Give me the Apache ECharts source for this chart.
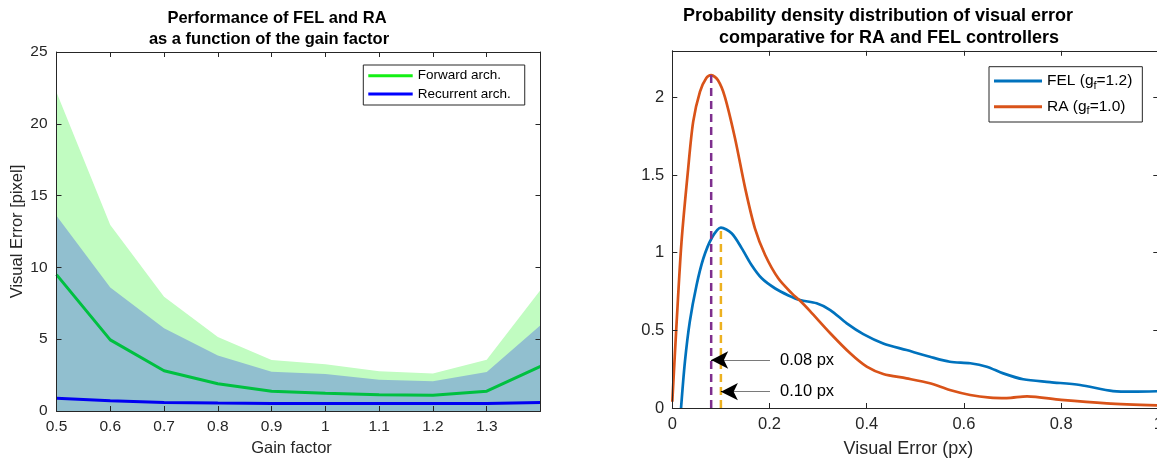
<!DOCTYPE html>
<html>
<head>
<meta charset="utf-8">
<script src="https://cdn.jsdelivr.net/npm/echarts@6/dist/echarts.min.js"></script>
<style>
  html, body { margin: 0; padding: 0; background: #fff; }
  #chart { width: 1157px; height: 461px; }
</style>
</head>
<body>
<div id="chart"></div>
<script>
// ---- Left panel: visual error against gain factor ----
const gainFactor     = [0.5, 0.6, 0.7, 0.8, 0.9, 1.0, 1.1, 1.2, 1.3, 1.4];
const forwardUpper   = [22.2, 12.95, 7.95, 5.15, 3.56, 3.25, 2.76, 2.62, 3.57, 8.43];
const recurrentUpper = [13.6, 8.6, 5.76, 3.87, 2.73, 2.58, 2.18, 2.07, 2.72, 5.97];
const forwardMean    = [9.5, 4.95, 2.8, 1.9, 1.37, 1.23, 1.14, 1.1, 1.38, 3.1];
const recurrentMean  = [0.88, 0.72, 0.59, 0.55, 0.53, 0.52, 0.52, 0.52, 0.53, 0.6];
const gainTickLabels  = [0.5, 0.6, 0.7, 0.8, 0.9, 1, 1.1, 1.2, 1.3];
const errorTickLabels = [0, 5, 10, 15, 20, 25];

// ---- Right panel: probability density of the visual error ----
const raGain = '1.0';
const felGain = '1.2';
const raX  = [0, 0.009, 0.019, 0.032, 0.043, 0.057, 0.07, 0.08, 0.094, 0.108, 0.129, 0.15, 0.17, 0.191,
              0.218, 0.246, 0.263, 0.283, 0.325, 0.366, 0.4, 0.434, 0.482, 0.53, 0.571, 0.613, 0.654,
              0.688, 0.73, 0.8, 0.894, 1.0];
const raY  = [0.04, 0.556, 1.071, 1.52, 1.844, 2.037, 2.125, 2.144, 2.11, 2.005, 1.737, 1.414, 1.157, 0.985,
              0.835, 0.738, 0.69, 0.625, 0.481, 0.352, 0.266, 0.219, 0.191, 0.159, 0.116, 0.084, 0.067,
              0.064, 0.075, 0.052, 0.03, 0.017];
const felX = [0.018, 0.026, 0.036, 0.05, 0.064, 0.081, 0.1, 0.122, 0.143, 0.163, 0.184, 0.211, 0.239, 0.263,
              0.297, 0.325, 0.359, 0.393, 0.434, 0.482, 0.53, 0.571, 0.613, 0.647, 0.681, 0.722, 0.777,
              0.839, 0.907, 0.948, 1.0];
const felY = [0, 0.298, 0.556, 0.792, 0.964, 1.093, 1.161, 1.125, 1.028, 0.921, 0.835, 0.771, 0.725, 0.695,
              0.674, 0.631, 0.545, 0.476, 0.416, 0.373, 0.33, 0.298, 0.288, 0.266, 0.223, 0.185, 0.167,
              0.148, 0.109, 0.105, 0.108];
const densityTickLabels = [0, 0.5, 1, 1.5, 2];
const errorPxTickLabels = [0, 0.2, 0.4, 0.6, 0.8, 1];

const FONT = '"Liberation Sans", Arial, Helvetica, sans-serif';
const AX = '#262626';

const zip = (xs, ys) => xs.map((x, i) => [x, ys[i]]);
const has = (list, v) => list.some(t => Math.abs(t - v) < 1e-6);
const fmt = v => String(+v.toFixed(2));

// mode of each density curve
function peak(xs, ys) {
  let k = 0;
  ys.forEach((y, i) => { if (y > ys[k]) k = i; });
  return { x: xs[k], y: ys[k] };
}
const raPeak = peak(raX, raY);
const felPeak = peak(felX, felY);

function axis(o) {
  return Object.assign({
    type: 'value',
    z: 10,
    axisLine: { show: true, onZero: false, lineStyle: { color: AX, width: 1 } },
    axisTick: { show: true, inside: true, length: 5, lineStyle: { color: AX, width: 1 } },
    splitLine: { show: false },
    axisLabel: { show: false }
  }, o);
}
function labels(list, size, margin) {
  return {
    show: true, color: AX, fontFamily: FONT, fontSize: size, margin: margin,
    showMinLabel: true, showMaxLabel: true, hideOverlap: false,
    formatter: v => has(list, v) ? fmt(v) : ''
  };
}

const chart = echarts.init(document.getElementById('chart'), null, { renderer: 'canvas' });

// arrow pointing at a dashed marker, with its value as text
function arrow(tipX, y, text) {
  const tailX = 0.201;
  return [
    [
      { coord: [tailX, y], symbol: 'none', lineStyle: { color: '#7a7a7a', width: 1, type: 'solid' },
        label: { show: true, position: 'start', distance: 10, formatter: text,
                 color: '#000', fontFamily: FONT, fontSize: 16.5 } },
      { coord: [tipX, y], symbol: 'none' }
    ],
    [
      { coord: [tipX + 0.02, y], symbol: 'none', lineStyle: { color: '#000', width: 1, type: 'solid' },
        label: { show: false } },
      { coord: [tipX, y], symbol: 'arrow', symbolSize: [13, 17] }
    ]
  ];
}

const option = {
  animation: false,
  backgroundColor: '#fff',
  textStyle: { fontFamily: FONT },
  grid: [
    { left: 56.5, top: 52, width: 484, height: 359, outerBoundsMode: 'none', containLabel: false },
    { left: 672.3, top: 50.8, width: 486, height: 357.2, outerBoundsMode: 'none', containLabel: false }
  ],
  xAxis: [
    axis({ gridIndex: 0, min: 0.5, max: 1.4, interval: 0.1, position: 'bottom',
           axisLabel: labels(gainTickLabels, 15.5, 8),
           name: 'Gain factor', nameLocation: 'middle', nameGap: 27,
           nameTextStyle: { color: AX, fontFamily: FONT, fontSize: 16.5, padding: [0, 14, 0, 0] } }),
    axis({ gridIndex: 0, min: 0.5, max: 1.4, interval: 0.1, position: 'top' }),
    axis({ gridIndex: 1, min: 0, max: 1, interval: 0.2, position: 'bottom',
           axisLabel: labels(errorPxTickLabels, 16.5, 8),
           name: 'Visual Error (px)', nameLocation: 'middle', nameGap: 32,
           nameTextStyle: { color: AX, fontFamily: FONT, fontSize: 18, padding: [0, 14, 0, 0] } }),
    axis({ gridIndex: 1, min: 0, max: 1, interval: 0.2, position: 'top' })
  ],
  yAxis: [
    axis({ gridIndex: 0, min: 0, max: 25, interval: 5, position: 'left',
           axisLabel: labels(errorTickLabels, 15.5, 9),
           name: 'Visual Error [pixel]', nameLocation: 'middle', nameGap: 30,
           nameTextStyle: { color: AX, fontFamily: FONT, fontSize: 16.5 } }),
    axis({ gridIndex: 0, min: 0, max: 25, interval: 5, position: 'right' }),
    axis({ gridIndex: 1, min: 0, max: 2.3, interval: 0.5, position: 'left',
           axisLabel: labels(densityTickLabels, 16.5, 8) }),
    axis({ gridIndex: 1, min: 0, max: 2.3, interval: 0.5, position: 'right' })
  ],
  legend: [
    {
      data: [
        { name: 'Forward arch.', itemStyle: { color: '#14f014' } },
        { name: 'Recurrent arch.', itemStyle: { color: '#0000ff' } }
      ],
      icon: 'rect',
      orient: 'vertical', left: 363.3, top: 65,
      padding: [3.7, 14, 4, 5], itemWidth: 44.4, itemHeight: 3, itemGap: 4.3,
      borderColor: '#262626', borderWidth: 1, backgroundColor: '#fff',
      selectedMode: false,
      textStyle: { color: '#000', fontFamily: FONT, fontSize: 13.5, lineHeight: 14 }
    },
    {
      data: [
        { name: 'FEL', itemStyle: { color: '#0072BD' } },
        { name: 'RA', itemStyle: { color: '#D95319' } }
      ],
      icon: 'rect',
      orient: 'vertical', left: 989, top: 66.7,
      padding: [4.3, 10, 5.3, 5], itemWidth: 48, itemHeight: 3, itemGap: 5.7,
      borderColor: '#262626', borderWidth: 1, backgroundColor: '#fff',
      selectedMode: false,
      formatter: name => {
        const g = name === 'FEL' ? felGain : raGain;
        return '{n|' + name + ' (g}{s|f}{n|=' + g + ')}';
      },
      textStyle: {
        color: '#000', fontFamily: FONT, fontSize: 15.5, lineHeight: 20,
        rich: {
          n: { fontSize: 15.5, lineHeight: 20, fontFamily: FONT, color: '#000' },
          s: { fontSize: 11, lineHeight: 9, verticalAlign: 'bottom', fontFamily: FONT, color: '#000' }
        }
      }
    }
  ],
  graphic: [
    { type: 'text', x: 277, y: 18, silent: true,
      style: { text: 'Performance of FEL and RA', font: 'bold 16.5px ' + FONT, fill: '#000',
               align: 'center', verticalAlign: 'middle', textAlign: 'center', textVerticalAlign: 'middle' } },
    { type: 'text', x: 269, y: 39.5, silent: true,
      style: { text: 'as a function of the gain factor', font: 'bold 16.5px ' + FONT, fill: '#000',
               align: 'center', verticalAlign: 'middle', textAlign: 'center', textVerticalAlign: 'middle' } },
    { type: 'text', x: 878, y: 16, silent: true,
      style: { text: 'Probability density distribution of visual error', font: 'bold 18px ' + FONT, fill: '#000',
               align: 'center', verticalAlign: 'middle', textAlign: 'center', textVerticalAlign: 'middle' } },
    { type: 'text', x: 889, y: 38, silent: true,
      style: { text: 'comparative for RA and FEL controllers', font: 'bold 18px ' + FONT, fill: '#000',
               align: 'center', verticalAlign: 'middle', textAlign: 'center', textVerticalAlign: 'middle' } }
  ],
  series: [
    // spread bands
    { type: 'line', xAxisIndex: 0, yAxisIndex: 0, data: zip(gainFactor, forwardUpper),
      symbol: 'none', silent: true, z: 1, lineStyle: { width: 0 },
      areaStyle: { color: '#c1fcc1', opacity: 1 } },
    { type: 'line', xAxisIndex: 0, yAxisIndex: 0, data: zip(gainFactor, recurrentUpper),
      symbol: 'none', silent: true, z: 1, lineStyle: { width: 0 },
      areaStyle: { color: '#91bfcf', opacity: 1 } },
    // mean curves
    { name: 'Forward arch.', type: 'line', xAxisIndex: 0, yAxisIndex: 0,
      data: zip(gainFactor, forwardMean), symbol: 'none', z: 3,
      itemStyle: { color: '#00c040' }, lineStyle: { color: '#00c040', width: 3 } },
    { name: 'Recurrent arch.', type: 'line', xAxisIndex: 0, yAxisIndex: 0,
      data: zip(gainFactor, recurrentMean), symbol: 'none', z: 3,
      itemStyle: { color: '#0000f2' }, lineStyle: { color: '#0000f2', width: 3 } },

    // density curves
    { name: 'FEL', type: 'line', xAxisIndex: 2, yAxisIndex: 2, data: zip(felX, felY),
      symbol: 'none', smooth: 0.3, z: 3,
      itemStyle: { color: '#0072BD' }, lineStyle: { color: '#0072BD', width: 2.7 } },
    { name: 'RA', type: 'line', xAxisIndex: 2, yAxisIndex: 2, data: zip(raX, raY),
      symbol: 'none', smooth: 0.3, z: 3,
      itemStyle: { color: '#D95319' }, lineStyle: { color: '#D95319', width: 2.7 } },

    // dashed markers at each mode, with arrows and values
    { type: 'line', xAxisIndex: 2, yAxisIndex: 2, silent: true, z: 4,
      data: [[raPeak.x, 0], [raPeak.x, raPeak.y]], symbol: 'none',
      lineStyle: { color: '#7E2F8E', width: 2.5, type: [8, 5] },
      markLine: { silent: true, animation: false, symbol: ['none', 'none'], label: { show: false },
                  emphasis: { disabled: true },
                  data: arrow(raPeak.x, 0.309, raPeak.x.toFixed(2) + ' px') } },
    { type: 'line', xAxisIndex: 2, yAxisIndex: 2, silent: true, z: 4,
      data: [[felPeak.x, 0], [felPeak.x, felPeak.y]], symbol: 'none',
      lineStyle: { color: '#EDB120', width: 2.5, type: [8, 5] },
      markLine: { silent: true, animation: false, symbol: ['none', 'none'], label: { show: false },
                  emphasis: { disabled: true },
                  data: arrow(felPeak.x, 0.105, felPeak.x.toFixed(2) + ' px') } }
  ]
};

chart.setOption(option);
</script>
</body>
</html>
